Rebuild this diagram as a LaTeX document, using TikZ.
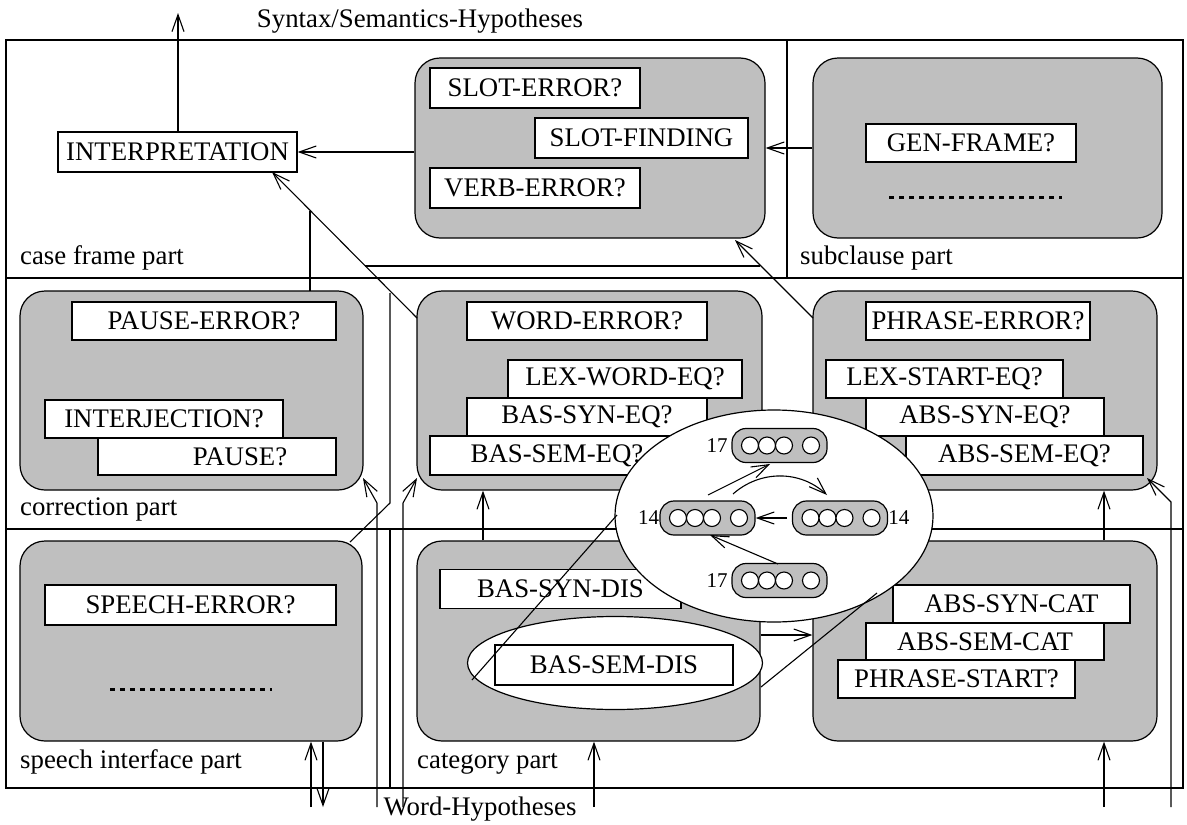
\documentclass[tikz,border=0pt]{standalone}
\usepackage{fontspec}
\setmainfont{Liberation Serif}
\usetikzlibrary{arrows.meta,shapes.geometric,calc}
\definecolor{panelgray}{gray}{0.75}
\begin{document}
\begin{tikzpicture}[x=1pt,y=-1pt,
  every node/.style={font=\fontsize{26.8}{30}\selectfont},
  frameline/.style={line width=2.8pt},
  panel/.style={draw, fill=panelgray, line width=1.2pt, rounded corners=25pt, rectangle, inner sep=0pt},
  tb/.style={draw, fill=white, line width=1.2pt, rectangle, inner sep=0pt},
  conn/.style={line width=1.1pt, -{Straight Barb[length=17pt,width=12pt,line width=1.1pt]}},
  ln/.style={line width=1.1pt},
  lbl/.style={anchor=base west, inner sep=0pt},
  dotsline/.style={line width=3pt, dash pattern=on 5pt off 5pt},
  pillbox/.style={draw, fill=panelgray, line width=1.2pt, rounded corners=14pt, rectangle, minimum width=95pt, minimum height=34pt, inner sep=0pt},
  ball/.style={draw, fill=white, line width=1.1pt, circle, minimum size=17pt, inner sep=0pt},
  num/.style={font=\fontsize{21}{24}\selectfont, inner sep=0pt},
  pillpic/.pic={
    \node[pillbox] (-b) at (0,0) {};
    \node[ball] (-c1) at (-29.5,0) {};
    \node[ball] (-c2) at (-12.5,0) {};
    \node[ball] (-c3) at (4.5,0) {};
    \node[ball] (-c4) at (31.5,0) {};
  }
]
\useasboundingbox (0,0) rectangle (1187,825);

% frame and dividers
\draw[frameline] (6,40) rectangle (1183,788);
\draw[frameline] (6,278) -- (1183,278);
\draw[frameline] (6,529) -- (1183,529);
\draw[frameline] (787,40) -- (787,278);
\draw[frameline] (390,529) -- (390,788);

% part labels
\node[lbl] (lcase) at (20,264) {case frame part};
\node[lbl] (lsub) at (800,264) {subclause part};
\node[lbl] (lcorr) at (20,515) {correction part};
\node[lbl] (lspeech) at (20,768) {speech interface part};
\node[lbl] (lcat) at (417,768) {category part};
\node[anchor=base, inner sep=0pt] (tsyn) at (420,27) {Syntax/Semantics-Hypotheses};
\node[anchor=base, inner sep=0pt] (tword) at (480,815) {Word-Hypotheses};

% panels
\node[panel, minimum width=350pt, minimum height=180pt] (slotP) at (590,148) {};
\node[panel, minimum width=349pt, minimum height=180pt] (subP) at (987.5,148) {};
\node[panel, minimum width=343pt, minimum height=199pt] (corrP) at (191.5,390.5) {};
\node[panel, minimum width=345pt, minimum height=199pt] (wordP) at (589.5,390.5) {};
\node[panel, minimum width=344pt, minimum height=199pt] (phrP) at (985,390.5) {};
\node[panel, minimum width=342pt, minimum height=200pt] (speechP) at (191,641) {};
\node[panel, minimum width=343pt, minimum height=200pt] (catL) at (588.5,641) {};
\node[panel, minimum width=344pt, minimum height=200pt] (catR) at (985,641) {};

% boxes
\node[tb, minimum width=239pt, minimum height=40pt] (interp) at (177.5,152) {INTERPRETATION};
\node[tb, minimum width=210pt, minimum height=40pt] (slotErr) at (535,88) {SLOT-ERROR?};
\node[tb, minimum width=213pt, minimum height=40pt] (slotFind) at (641.5,138) {SLOT-FINDING};
\node[tb, minimum width=210pt, minimum height=40pt] (verbErr) at (535,188) {VERB-ERROR?};
\node[tb, minimum width=210pt, minimum height=38pt] (genFrame) at (971,143) {GEN-FRAME?};
\draw[dotsline] (889,197) -- (1062,197);

\node[tb, minimum width=264pt, minimum height=38pt] (pauseErr) at (204,321) {PAUSE-ERROR?};
\node[tb, minimum width=238pt, minimum height=38pt] (interj) at (164,419) {INTERJECTION?};
\node[tb, minimum width=238pt, minimum height=37pt] (pause) at (217,456.5) {\hspace*{46pt}PAUSE?};

\node[tb, minimum width=240pt, minimum height=38pt] (wordErr) at (587,321) {WORD-ERROR?};
\node[tb, minimum width=234pt, minimum height=38pt] (lexWord) at (625,379) {LEX-WORD-EQ?};
\node[tb, minimum width=240pt, minimum height=38pt] (basSyn) at (587,417) {BAS-SYN-EQ?};
\node[tb, minimum width=254pt, minimum height=39pt] (basSem) at (557,455.5) {BAS-SEM-EQ?};

\node[tb, minimum width=224pt, minimum height=38pt] (phrErr) at (978,321) {PHRASE-ERROR?};
\node[tb, minimum width=237pt, minimum height=38pt] (lexStart) at (944.5,379) {LEX-START-EQ?};
\node[tb, minimum width=238pt, minimum height=38pt] (absSyn) at (985,417) {ABS-SYN-EQ?};
\node[tb, minimum width=237pt, minimum height=39pt] (absSem) at (1024.5,455.5) {ABS-SEM-EQ?};

\node[tb, minimum width=291pt, minimum height=40pt] (speechErr) at (190.5,605) {SPEECH-ERROR?};
\draw[dotsline] (110,689) -- (272,689);

\node[tb, minimum width=241pt, minimum height=39pt] (basSynDis) at (560.5,589) {BAS-SYN-DIS};
\node[draw, fill=white, line width=1.2pt, ellipse, minimum width=295pt, minimum height=93pt, inner sep=0pt] (smallE) at (615,663) {};
\node[tb, minimum width=238pt, minimum height=40pt] (basSemDis) at (614,665) {BAS-SEM-DIS};

\node[tb, minimum width=237pt, minimum height=38pt] (absSynCat) at (1011.5,604) {ABS-SYN-CAT};
\node[tb, minimum width=238pt, minimum height=37pt] (absSemCat) at (985,641.5) {ABS-SEM-CAT};
\node[tb, minimum width=237pt, minimum height=38pt] (phrStart) at (956.5,679) {PHRASE-START?};

% connector points
\coordinate (iTop) at (178,13);
\coordinate (iB) at (272,172);
\coordinate (wA) at (417,318);
\coordinate (pA) at (813,318);
\coordinate (sB) at (735,240);
\coordinate (j1) at (310,211);
\coordinate (c1) at (310,291);
\coordinate (j2) at (365,266);
\coordinate (j3) at (760,266);
\coordinate (j4) at (390,293);
\coordinate (k4) at (390,503);
\coordinate (sp1) at (350,542);
\coordinate (b1) at (377,807);
\coordinate (b1k) at (377,503);
\coordinate (cc) at (363,478);
\coordinate (b2) at (403,807);
\coordinate (b2k) at (403,503);
\coordinate (wc) at (417,478);
\coordinate (b3) at (1171,807);
\coordinate (b3k) at (1171,502);
\coordinate (pc) at (1147,478);
\coordinate (u1) at (311,807);
\coordinate (d1) at (323,807);
\coordinate (u2) at (1104,807);
\coordinate (u3) at (594,807);

% top connectors
\draw[conn] (interp.north -| iTop) -- (iTop);
\draw[conn] (slotP.west |- interp.east) -- (interp.east);
\draw[conn] (subP.west |- slotP.east) -- (slotP.east);
\draw[conn] (wA) -- (iB);
\draw[conn] (pA) -- (sB);
\draw[ln] (c1) -- (j1);
\draw[ln] (j2) -- (j3);
\draw[ln] (sp1) -- (k4) -- (j4);

% inputs from below
\draw[conn] (u1) -- (u1 |- speechP.south);
\draw[conn] (speechP.south -| d1) -- (d1);
\draw[conn] (b1) -- (b1k) -- (cc);
\draw[conn] (b2) -- (b2k) -- (wc);
\draw[conn] (b3) -- (b3k) -- (pc);
\draw[conn] (u2) -- (u2 |- catR.south);
\draw[conn] (u3) -- (u3 |- catL.south);

% between panels
\draw[conn] (catL.north -| 483,0) -- (wordP.south -| 483,0);
\draw[conn] (catR.north -| 1104,0) -- (phrP.south -| 1104,0);
\draw[conn] (catL.east |- 0,635) -- (catR.west |- 0,635);

% magnified view
\node[draw, fill=white, line width=1.2pt, ellipse, minimum width=318pt, minimum height=212pt, inner sep=0pt] (bigE) at (774,516) {};
\pic (pT) at (779.5,445.5) {pillpic};
\pic (pL) at (707.5,518) {pillpic};
\pic (pR) at (840,518) {pillpic};
\pic (pB) at (779.5,580.5) {pillpic};
\node[num, anchor=east] (n1) at (pT-b.west) {17\,};
\node[num, anchor=east] (n2) at (pL-b.west) {14};
\node[num, anchor=west] (n3) at (pR-b.east) {14};
\node[num, anchor=east] (n4) at (pB-b.west) {17\,};

\coordinate (e1s) at (708,495);
\coordinate (e1e) at (770,464);
\coordinate (e2s) at (733,494);
\coordinate (e2e) at (827,495);
\coordinate (e3s) at (787,518);
\coordinate (e4s) at (778,564);
\coordinate (e4e) at (710,535);
\draw[conn] (e1s) -- (e1e);
\draw[conn] (e2s) .. controls (760,470) and (800,470) .. (e2e);
\draw[conn] (e3s) -- (pL-b.east);
\draw[conn] (e4s) -- (e4e);

\coordinate (z1) at (472,680);
\coordinate (z2) at (617,515);
\coordinate (z3) at (761,687);
\coordinate (z4) at (877,593);
\draw[ln] (z1) -- (z2);
\draw[ln] (z3) -- (z4);
\end{tikzpicture}
\end{document}
